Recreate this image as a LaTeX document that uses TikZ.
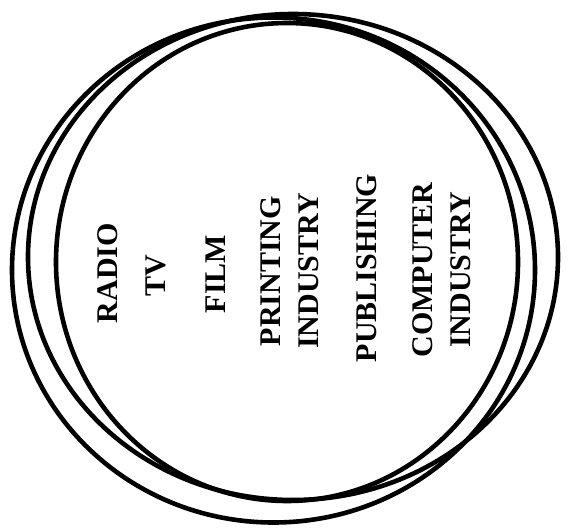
\documentclass[tikz,border=0pt]{standalone}
\usepackage{fontspec}
\setmainfont{Liberation Serif}
\usetikzlibrary{shapes.geometric}
\begin{document}
\begin{tikzpicture}[x=1pt,y=-1pt,
  ring/.style={draw=black, line width=4.6pt, ellipse, inner sep=0pt},
  txt/.style={rotate=90, align=center, font=\bfseries\fontsize{30}{38}\selectfont, inner sep=0pt}]
\useasboundingbox[fill=white] (0,0) rectangle (568,530);
\node[ring, minimum width=523pt, minimum height=505pt] (cA) at (273.5,270) {};
\node[ring, minimum width=530pt, minimum height=486pt] (cB) at (293,257) {};
\node[ring, minimum width=462pt, minimum height=478pt] (cC) at (287,262) {};
\node[txt] (radio) at (108,273) {RADIO};
\node[txt] (tv) at (156,276) {TV};
\node[txt] (film) at (216,274) {FILM};
\node[txt] (print) at (290,271) {PRINTING\\INDUSTRY};
\node[txt] (publ) at (367,268) {PUBLISHING};
\node[txt] (comp) at (442,270) {COMPUTER\\INDUSTRY};
\end{tikzpicture}
\end{document}
